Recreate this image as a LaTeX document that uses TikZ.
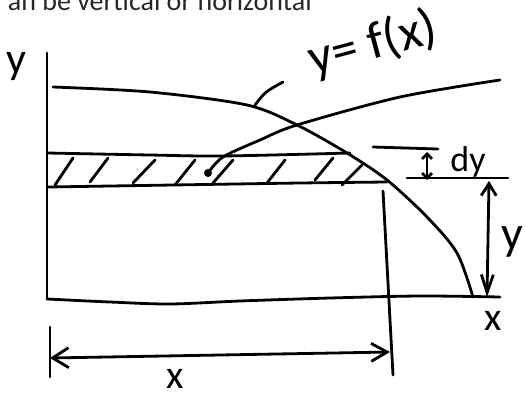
\documentclass[tikz,border=0pt]{standalone}
\usepackage{fontspec}
\setmainfont{Carlito}
\usetikzlibrary{arrows.meta}
\definecolor{Paper}{HTML}{FFFFFF}
\definecolor{Ink}{HTML}{000000}
\definecolor{Caption}{HTML}{262626}
\tikzset{sketch/.style={draw=Ink,line width=2.8pt,line cap=round,line join=round},dimarrow/.style={sketch,{Straight Barb[length=16pt,width=20pt]}-{Straight Barb[length=16pt,width=18pt]}},smallarrow/.style={sketch,{Straight Barb[length=5pt,width=10pt]}-{Straight Barb[length=5pt,width=10pt]}},hand/.style={text=Ink,inner sep=0pt,font=\fontsize{40}{40}\selectfont}}

\begin{document}
\begin{tikzpicture}[x=1pt,y=-1pt]
\useasboundingbox (0,0) rectangle (525,394);
\clip (0,0) rectangle (525,394);
\fill[Paper] (0,0) rectangle (525,394);
\node[anchor=base east,text=Caption,inner sep=0pt,font=\fontsize{28}{28}\selectfont] (caption) at (312,10) {an be vertical or horizontal};
\draw[sketch] (47,53) -- (47,299);
\draw[sketch] plot[smooth] coordinates {(47,299) (110,302) (170,304) (240,301) (330,298) (420,296) (500,297)};
\draw[sketch] plot[smooth] coordinates {(53,87) (150,92) (247,105) (297,125) (347,153) (387,180) (427,217) (457,253) (473,297)};
\fill[Ink] (208,173) circle (4);
\draw[sketch] plot[smooth] coordinates {(208,173) (223,157) (260,140) (297,125) (400,97) (500,80)};
\draw[sketch] (255,105) .. controls (265,92) .. (283,82);
\draw[sketch] plot[smooth] coordinates {(48,153) (150,155) (223,156) (350,153)};
\draw[sketch] plot[smooth] coordinates {(48,187) (173,185) (300,183) (387,182)};
\foreach \xa/\ya/\xb/\yb in {55/185/73/158,90/182/108/158,133/183/155/160,175/185/195/160,213/183/233/160,267/183/285/160,315/180/333/158,342/185/362/165}
  \draw[sketch] (\xa,\ya) -- (\xb,\yb);
\draw[sketch] (383,191) -- (393,375);
\draw[sketch] (50,327) -- (50,377);
\draw[sketch] (373,147) -- (438,149);
\draw[sketch] (407,178) -- (508,178);
\coordinate (xleft) at (50,358);
\coordinate (xright) at (390,352);
\coordinate (dytop) at (427,152);
\coordinate (dybottom) at (427,180);
\coordinate (ytop) at (489,181);
\coordinate (ybottom) at (487,297);
\draw[dimarrow] (xleft) -- (xright);
\draw[smallarrow] (dytop) -- (dybottom);
\draw[sketch,{Straight Barb[length=12pt,width=15pt]}-{Straight Barb[length=18pt,width=12pt]}] (ytop) -- (ybottom);
\node[hand,font=\fontsize{44}{44}\selectfont] (ylabel) at (16,67) {y};
\node[hand,rotate=15,font=\fontsize{52}{52}\selectfont] (curvelabel) at (373,44) {y= f(x)};
\node[hand,font=\fontsize{36}{36}\selectfont] (dylabel) at (468,162) {dy};
\node[hand,font=\fontsize{48}{48}\selectfont] (ydim) at (512,242) {y};
\node[hand] (xend) at (493,321) {x};
\node[hand,font=\fontsize{40}{40}\selectfont] (xdim) at (175,379) {x};
\end{tikzpicture}
\end{document}
